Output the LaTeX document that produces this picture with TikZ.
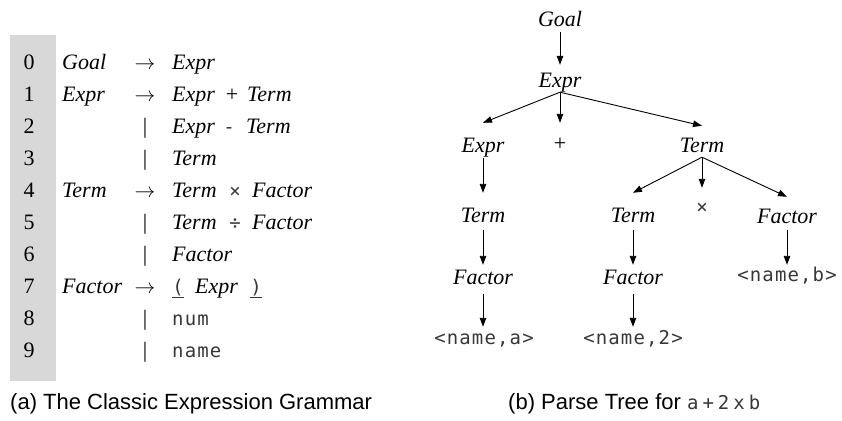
\documentclass[tikz,border=0pt]{standalone}
\usepackage{fontspec}
\setmainfont{Liberation Serif}
\newfontfamily\capfont{Liberation Sans}
\newfontfamily\termfont[LetterSpace=6]{DejaVu Sans Mono}
\usetikzlibrary{arrows.meta}
\definecolor{barg}{RGB}{216,216,216}
\definecolor{termc}{RGB}{55,55,55}
\tikzset{
  gnum/.style={font=\fontsize{22}{26}\selectfont, inner sep=0pt, anchor=base},
  gnt/.style={font=\fontsize{22}{26}\selectfont\itshape, inner sep=0pt, anchor=base west},
  gsym/.style={font=\fontsize{22}{26}\selectfont, inner sep=0pt, anchor=base},
  gop/.style={font=\fontsize{19}{22}\selectfont\termfont, text=termc, inner sep=0pt, anchor=base},
  gterm/.style={font=\fontsize{19}{22}\selectfont\termfont, text=termc, inner sep=0pt, anchor=base west},
  tn/.style={font=\fontsize{22}{26}\selectfont\itshape, inner sep=0pt, text height=15pt, text depth=5pt, anchor=base},
  tplus/.style={font=\fontsize{22}{26}\selectfont, inner sep=0pt, text height=15pt, text depth=5pt, anchor=base},
  tt/.style={font=\fontsize{19}{22}\selectfont\termfont, text=termc, inner sep=0pt, text height=15pt, text depth=5pt, anchor=base},
  captext/.style={font=\fontsize{22}{26}\selectfont\capfont, inner sep=0pt, anchor=base west},
  arr/.style={-{Triangle[length=9pt,width=6.5pt]}, line width=0.9pt},
}
\begin{document}
\begin{tikzpicture}[x=1pt,y=-1pt]
\useasboundingbox (0,0) rectangle (842,420);
% grammar
\fill[barg] (10,35) rectangle (56,381);
\foreach \i/\b in {0/69,1/101,2/133,3/165,4/197,5/229,6/261,7/293,8/325,9/357}{
  \node[gnum] (n\i) at (29,\b) {\i};
}
% row 0
\node[gnt] (l0) at (62,69) {Goal};
\node[gsym] (a0) at (145,69) {$\rightarrow$};
\node[gnt] (r0a) at (172,69) {Expr};
% row 1
\node[gnt] (l1) at (62,101) {Expr};
\node[gsym] (a1) at (145,101) {$\rightarrow$};
\node[gnt] (r1a) at (172,101) {Expr};
\node[gsym] (r1o) at (232,101) {+};
\node[gnt] (r1b) at (247,101) {Term};
% row 2
\node[gsym] (a2) at (145,133) {|};
\node[gnt] (r2a) at (172,133) {Expr};
\node[gop] (r2o) at (229,133) {-};
\node[gnt] (r2b) at (246,133) {Term};
% row 3
\node[gsym] (a3) at (145,165) {|};
\node[gnt] (r3a) at (172,165) {Term};
% row 4
\node[gnt] (l4) at (62,197) {Term};
\node[gsym] (a4) at (145,197) {$\rightarrow$};
\node[gnt] (r4a) at (172,197) {Term};
\node[gop] (r4o) at (235,197) {×};
\node[gnt] (r4b) at (252,197) {Factor};
% row 5
\node[gsym] (a5) at (145,229) {|};
\node[gnt] (r5a) at (172,229) {Term};
\node[gop] (r5o) at (235,229) {÷};
\node[gnt] (r5b) at (252,229) {Factor};
% row 6
\node[gsym] (a6) at (145,261) {|};
\node[gnt] (r6a) at (172,261) {Factor};
% row 7
\node[gnt] (l7) at (62,293) {Factor};
\node[gsym] (a7) at (145,293) {$\rightarrow$};
\node[gop] (r7p) at (178,293) {\underline{(}};
\node[gnt] (r7a) at (195,293) {Expr};
\node[gop] (r7q) at (256,293) {\underline{)}};
% row 8
\node[gsym] (a8) at (145,325) {|};
\node[gterm] (r8a) at (172,325) {num};
% row 9
\node[gsym] (a9) at (145,357) {|};
\node[gterm] (r9a) at (172,357) {name};
% tree
\node[tn] (goal) at (560,27) {Goal};
\node[tn] (e1) at (560,87) {Expr};
\node[tn] (e2) at (483,152) {Expr};
\node[tplus] (plus) at (560,150) {+};
\node[tn] (t2) at (702,152) {Term};
\node[tn] (t3a) at (483,222) {Term};
\node[tn] (t3b) at (633,222) {Term};
\node[tt] (times) at (702,213) {×};
\node[tn] (f3) at (787,223) {Factor};
\node[tn] (f4a) at (483,284) {Factor};
\node[tn] (f4b) at (633,284) {Factor};
\node[tt] (nb) at (787,281) {<name,b>};
\node[tt] (na) at (484,344) {<name,a>};
\node[tt] (n2) at (633,344) {<name,2>};
\draw[arr] (goal.south) -- ([yshift=7pt]e1.north);
\draw[arr] (e1.south) -- ([yshift=14pt]e2.north);
\draw[arr] (e1.south) -- ([yshift=12pt]plus.north);
\draw[arr] (e1.south) -- ([yshift=11pt]t2.north);
\draw[arr] ([yshift=-1pt]e2.south) -- ([yshift=14pt]t3a.north);
\draw[arr] (t2.south) -- ([yshift=14pt]t3b.north);
\draw[arr] (t2.south) -- ([yshift=10pt]times.north);
\draw[arr] (t2.south) -- ([yshift=11pt]f3.north);
\draw[arr] ([yshift=-3pt]t3a.south) -- ([yshift=4pt]f4a.north);
\draw[arr] ([yshift=-3pt]t3b.south) -- ([yshift=4pt]f4b.north);
\draw[arr] ([yshift=-2pt]f3.south) -- ([yshift=1pt]nb.north);
\draw[arr] ([yshift=-5pt]f4a.south) -- ([yshift=2pt]f4a.south|-na.north);
\draw[arr] ([yshift=-5pt]f4b.south) -- ([yshift=2pt]n2.north);
% captions
\node[captext] (capa) at (10,409) {(a) The Classic Expression Grammar};
\node[captext] (capb) at (508,409) {(b) Parse Tree for {\fontsize{19}{22}\selectfont\termfont\color{termc}a\hspace{4pt}+\hspace{4pt}2\hspace{4pt}x\hspace{4pt}b}};
\end{tikzpicture}
\end{document}
